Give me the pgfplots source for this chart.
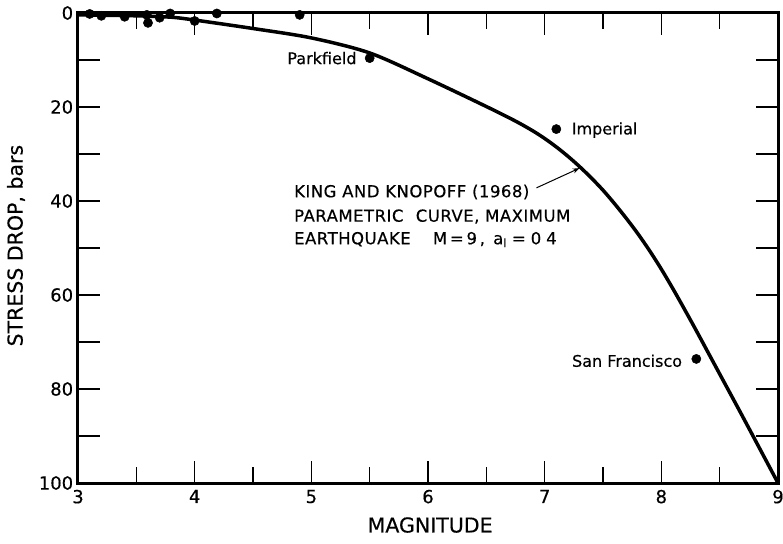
\documentclass[border=0pt]{standalone}
\usepackage{fontspec}
\setmainfont{DejaVu Sans}[UprightFeatures={FakeBold=0.4}]
\usepackage{pgfplots}
\pgfplotsset{compat=1.18}
\usetikzlibrary{arrows.meta}
\newcommand\annfont{\fontsize{16.5}{16.5}\selectfont\addfontfeature{LetterSpace=3}}
\begin{document}
\begin{tikzpicture}
\begin{axis}[
 scale only axis, width=700pt, height=470pt,
 xmin=3, xmax=9, ymin=0, ymax=100, y dir=reverse,
 xtick={3,...,9}, minor xtick={3.5,4.5,...,8.5},
 ytick={0,10,...,100}, yticklabels={0,,20,,40,,60,,80,,100},
 tick align=inside,
 major tick length=22pt, minor tick length=16pt,
 line width=3pt,
 axis line style={line width=3pt},
 every tick/.style={black, line width=1.5pt},
 xticklabel style={font=\fontsize{18}{18}\selectfont, yshift=-2pt},
 yticklabel style={font=\fontsize{18}{18}\selectfont},
 /pgf/number format/assume math mode=true,
 xlabel={MAGNITUDE}, ylabel={STRESS DROP, bars},
 xlabel style={font=\fontsize{20.5}{20.5}\selectfont, at={(axis description cs:0.503,-0.0894)}, anchor=center},
 ylabel style={font=\fontsize{20.5}{20.5}\selectfont, at={(axis description cs:-0.0886,0.505)}, anchor=center},
 clip=false,
]
\addplot[black, line width=3.5pt, smooth, tension=0.5] coordinates {
 (3.0,0.4) (3.5,0.6) (3.8,0.9) (4.0,1.5) (4.5,3.3) (5.0,5.3) (5.5,8.5)
 (6.0,14.0) (6.5,19.9) (6.75,23.0) (6.9,25.1) (7.0,26.7) (7.1,28.5) (7.2,30.5)
 (7.3,32.7) (7.4,35.1) (7.5,37.7) (7.6,40.6) (7.7,43.7) (7.8,47.0) (7.9,50.6)
 (8.0,54.5) (8.1,58.7) (8.2,63.1) (8.3,67.6) (8.5,76.8) (8.7,86.0) (9.0,100)
};
\addplot[only marks, mark=*, mark size=4.6pt, black, line width=0.5pt] coordinates {
 (3.10,0.2) (3.20,0.6) (3.40,0.8) (3.59,0.4) (3.60,2.1) (3.70,1.0) (3.79,0.1)
 (4.00,1.7) (4.19,0.1) (4.90,0.4) (5.50,9.6) (7.10,24.7) (8.30,73.6)
};
\node[anchor=east, inner sep=0pt, font=\fontsize{16}{16}\selectfont] at (axis cs:5.40,9.6) {Parkfield};
\node[anchor=west, inner sep=0pt, font=\fontsize{16}{16}\selectfont] at (axis cs:7.22,24.9) {Imperial};
\node[anchor=east, inner sep=0pt, font=\fontsize{16}{16}\selectfont] at (axis cs:8.19,74.0) {San Francisco};
\node[anchor=base west, inner sep=0pt, font=\annfont] at (axis cs:4.84,39.2) {KING AND KNOPOFF (1968)};
\node[anchor=base west, inner sep=0pt, font=\annfont] at (axis cs:4.84,44.4) {PARAMETRIC\hspace{0.4em} CURVE, MAXIMUM};
\node[anchor=base west, inner sep=0pt, font=\annfont] at (axis cs:4.84,49.2) {EARTHQUAKE\hspace{1em} M\,=\,9\,,\hspace{0.5em}a\textsubscript{l}\hspace{0.3em}=\hspace{0.3em}0\hspace{0.3em}4};
\draw[line width=1pt, -{Stealth[length=7pt,width=5pt]}] (axis cs:6.93,37.2) -- (axis cs:7.30,33.0);
\end{axis}
\pgfresetboundingbox
\path (current axis.south west) ++(-78pt,-60pt) rectangle ++(783pt,543pt);
\end{tikzpicture}
\end{document}
